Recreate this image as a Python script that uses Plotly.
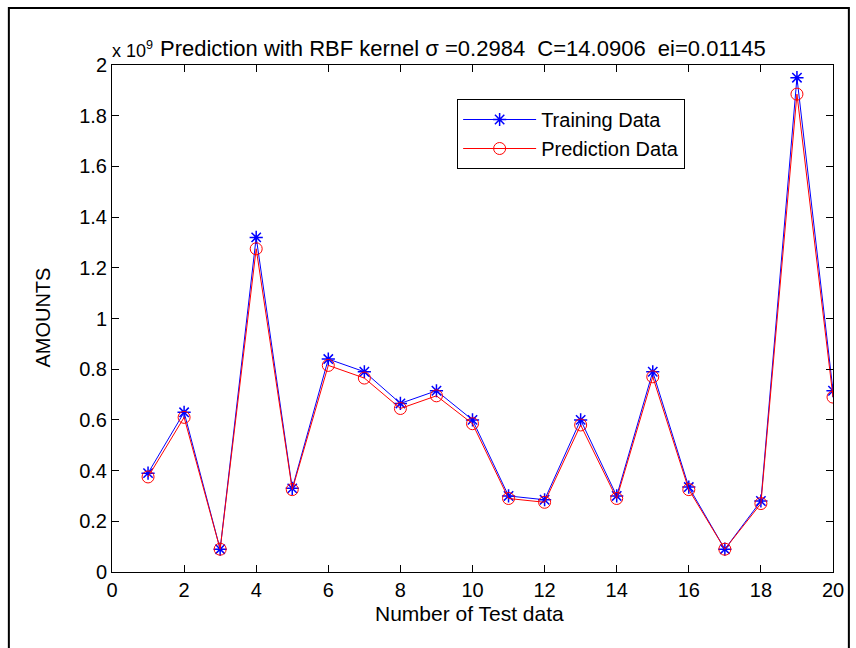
import plotly.graph_objects as go

x_idx = list(range(1, 21))
training = [0.39, 0.63, 0.09, 1.32, 0.33, 0.84, 0.79, 0.665, 0.715, 0.60,
            0.30, 0.285, 0.60, 0.30, 0.79, 0.335, 0.09, 0.28, 1.95, 0.715]
prediction = [0.375, 0.61, 0.09, 1.275, 0.325, 0.815, 0.765, 0.645, 0.695, 0.585,
              0.29, 0.275, 0.58, 0.29, 0.77, 0.325, 0.09, 0.27, 1.885, 0.69]
x_ticks = list(range(0, 21, 2))
y_ticks = [0, 0.2, 0.4, 0.6, 0.8, 1.0, 1.2, 1.4, 1.6, 1.8, 2.0]
y_tick_labels = ["0", "0.2", "0.4", "0.6", "0.8", "1", "1.2", "1.4", "1.6", "1.8", "2"]

FONT = "Liberation Sans, Arial, sans-serif"
W, H = 856, 648
L, R, T, B = 112, 17, 65, 76
pw, ph = W - L - R, H - T - B

fig = go.Figure()
fig.add_trace(go.Scatter(x=x_idx, y=training, mode="lines+markers", name="Training Data",
                         line=dict(color="#0000ff", width=1),
                         marker=dict(symbol="asterisk-open", size=11, color="#0000ff",
                                     line=dict(color="#0000ff", width=1.5))))
fig.add_trace(go.Scatter(x=x_idx, y=prediction, mode="lines+markers", name="Prediction Data",
                         line=dict(color="#ff0000", width=1),
                         marker=dict(symbol="circle-open", size=12, color="#ff0000",
                                     line=dict(color="#ff0000", width=1))))

axis_common = dict(showgrid=False, zeroline=False, showline=True, linecolor="black", linewidth=1,
                   mirror="ticks", ticks="inside", ticklen=7, tickcolor="black",
                   tickfont=dict(family=FONT, size=20, color="black"))
fig.update_xaxes(range=[0, 20], tickvals=x_ticks, **axis_common)
fig.update_yaxes(range=[0, 2], tickvals=y_ticks, ticktext=y_tick_labels, **axis_common)


def px_to_paper_x(px):
    return (px - L) / pw


def py_to_paper_y(py):
    return (H - B - py) / ph


txt = dict(family=FONT, color="black")
fig.add_annotation(x=px_to_paper_x(110), y=py_to_paper_y(49), xref="paper", yref="paper",
                   text="x 10<sup>9</sup>", showarrow=False, xanchor="left", yanchor="middle",
                   font=dict(size=18, **txt))
fig.add_annotation(x=px_to_paper_x(466), y=py_to_paper_y(48), xref="paper", yref="paper",
                   text="Prediction with RBF kernel σ =0.2984 \u00a0C=14.0906 \u00a0ei=0.01145",
                   showarrow=False, xanchor="center", yanchor="middle",
                   font=dict(size=22, **txt))
fig.add_annotation(x=px_to_paper_x(472), y=py_to_paper_y(613), xref="paper", yref="paper",
                   text="Number of Test data", showarrow=False, xanchor="center", yanchor="middle",
                   font=dict(size=21, **txt))
fig.add_annotation(x=px_to_paper_x(42), y=py_to_paper_y(318), xref="paper", yref="paper",
                   text="AMOUNTS", showarrow=False, xanchor="center", yanchor="middle", textangle=-90,
                   font=dict(size=20, **txt))

fig.add_shape(type="rect", xref="paper", yref="paper",
              x0=px_to_paper_x(8), x1=px_to_paper_x(855),
              y0=py_to_paper_y(670), y1=py_to_paper_y(8),
              line=dict(color="black", width=2), fillcolor="rgba(0,0,0,0)", layer="below")

fig.update_layout(
    width=W, height=H, margin=dict(l=L, r=R, t=T, b=B),
    paper_bgcolor="white", plot_bgcolor="white",
    showlegend=True,
    legend=dict(x=px_to_paper_x(460), y=py_to_paper_y(99), xanchor="left", yanchor="top",
                bordercolor="black", borderwidth=1, bgcolor="white",
                font=dict(family=FONT, size=20, color="black"), tracegroupgap=0,
                itemwidth=73),
)

fig.write_html("out.html")
